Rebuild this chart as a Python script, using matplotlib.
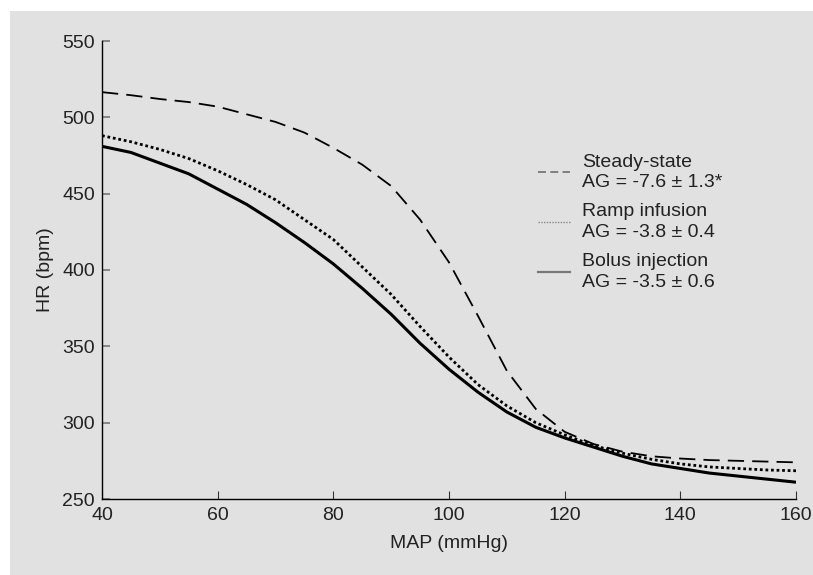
import matplotlib
matplotlib.use("Agg")
import matplotlib.pyplot as plt
from matplotlib.lines import Line2D
from matplotlib.patches import Rectangle

# MAP (mmHg) sample points
mapVals = [40, 45, 50, 55, 60, 65, 70, 75, 80, 85, 90, 95, 100,
           105, 110, 115, 120, 125, 130, 135, 140, 145, 150, 155, 160]
# HR (bpm)
steadyHR = [516.5, 514.5, 512, 510, 507, 502, 497, 490, 480, 469, 455, 433, 405,
            370, 334, 309, 294, 286, 281, 278, 276.5, 275.5, 275, 274.5, 274]
rampHR = [488, 484, 479, 473, 465, 456, 446, 433, 420, 402, 384, 363, 343,
          325, 311, 300, 292, 285, 280, 276, 273, 271, 270, 269, 268.5]
bolusHR = [481, 477, 470, 463, 453, 443, 431, 418, 404, 388, 371, 352, 335,
           320, 307, 297, 290, 284, 278, 273, 270, 267, 265, 263, 261]

legendLabels = ["Steady-state\nAG = -7.6 \u00b1 1.3*",
                "Ramp infusion\nAG = -3.8 \u00b1 0.4",
                "Bolus injection\nAG = -3.5 \u00b1 0.6"]
xTicks = [40, 60, 80, 100, 120, 140, 160]
yTicks = [250, 300, 350, 400, 450, 500, 550]

bgColor = "#e1e1e1"
txtColor = "#222222"
plt.rcParams["font.family"] = ["Liberation Sans", "DejaVu Sans"]
plt.rcParams["font.size"] = 14

fig = plt.figure(figsize=(8.13, 5.75), dpi=100)
fig.patch.set_facecolor("white")
# gray panel with a thin white margin at top and left
fig.patches.append(Rectangle((10/813, 0), 1, 1 - 11/575, transform=fig.transFigure,
                             facecolor=bgColor, edgecolor="none", zorder=-10))
ax = fig.add_axes([102/813, 1 - 499/575, (796-102)/813, (499-41)/575])
ax.set_facecolor(bgColor)

ax.plot(mapVals, steadyHR, color="black", lw=1.3, linestyle=(0, (9, 4.5)))
ax.plot(mapVals, rampHR, color="black", lw=2.0, linestyle=(0, (1, 1)))
ax.plot(mapVals, bolusHR, color="black", lw=2.2, solid_capstyle="butt")

ax.set_xlim(40, 160)
ax.set_ylim(250, 550)
ax.set_xticks(xTicks)
ax.set_yticks(yTicks)
ax.spines["top"].set_visible(False)
ax.spines["right"].set_visible(False)
for s in ["left", "bottom"]:
    ax.spines[s].set_linewidth(1.0)
ax.tick_params(axis="x", direction="in", length=6, width=0.8, color="#333333",
               labelcolor=txtColor, pad=6)
ax.tick_params(axis="y", direction="in", length=6, width=1.2, color="#777777",
               labelcolor=txtColor, pad=5)
ax.set_xlabel("MAP (mmHg)", color=txtColor, labelpad=8)
ax.set_ylabel("HR (bpm)", color=txtColor, labelpad=6)

# legend samples are drawn thin and gray in the original
handles = [Line2D([], [], color="#777777", lw=1.3, linestyle=(0, (4.4, 2.4))),
           Line2D([], [], color="#888888", lw=1.0, linestyle=(0, (1, 1))),
           Line2D([], [], color="#777777", lw=1.6)]
leg = ax.legend(handles, legendLabels, loc="upper left",
                bbox_to_anchor=(528/813, 1 - 144/575), bbox_transform=fig.transFigure,
                frameon=False, handlelength=1.65, handletextpad=0.65,
                labelspacing=0.62, borderpad=0, labelcolor=txtColor)
for t in leg.get_texts():
    t.set_linespacing(1.28)

fig.savefig("out.png", dpi=100, facecolor=fig.get_facecolor())
